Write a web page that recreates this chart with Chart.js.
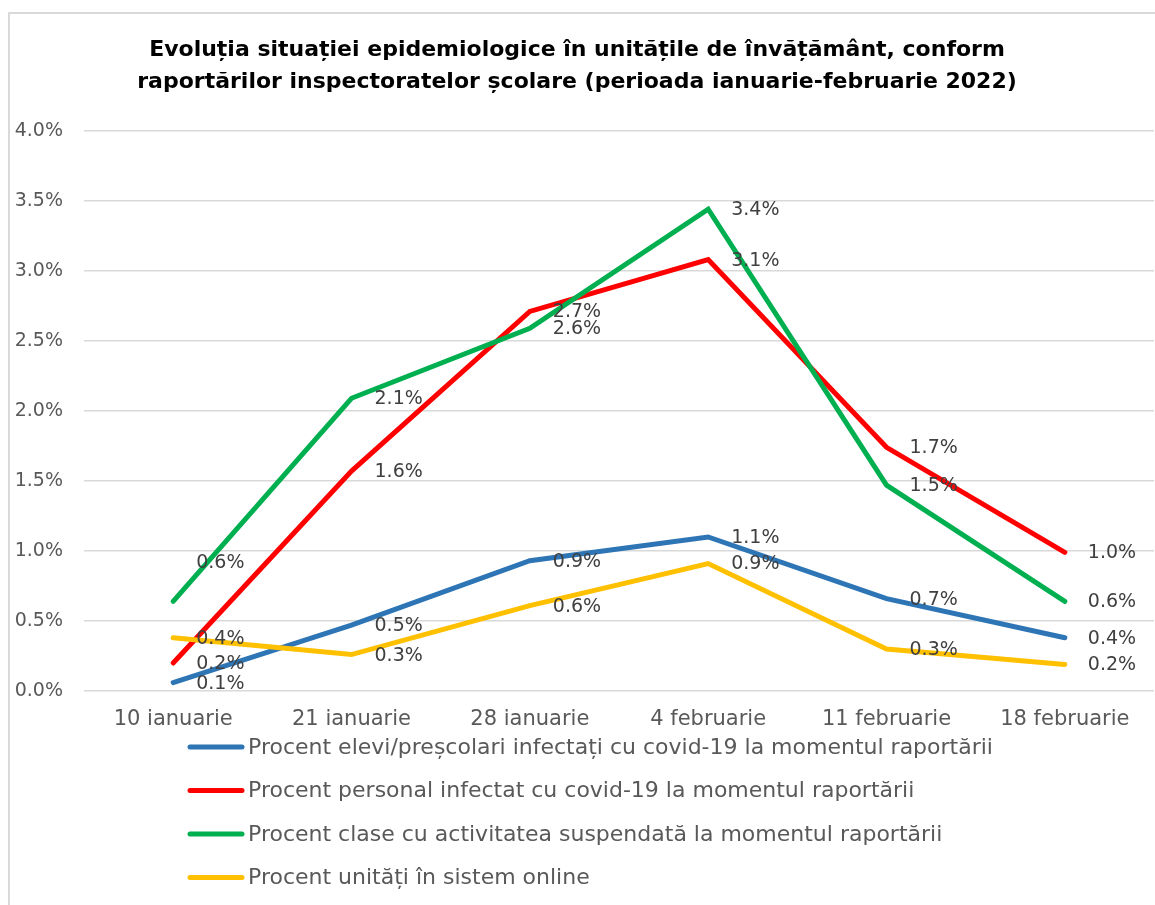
<!DOCTYPE html>
<html>
<head>
<meta charset="utf-8">
<script src="https://cdn.jsdelivr.net/npm/chart.js@4"></script>
<style>
  html, body { margin: 0; padding: 0; background: #ffffff; }
  #grafic { display: block; }
</style>
</head>
<body>
<canvas id="grafic" width="1155" height="905"></canvas>
<script>
// date (procente)
const categorii = ['10 ianuarie', '21 ianuarie', '28 ianuarie', '4 februarie', '11 februarie', '18 februarie'];
const eleviInfectati = [0.06, 0.47, 0.93, 1.10, 0.66, 0.38];
const personalInfectat = [0.20, 1.57, 2.71, 3.08, 1.74, 0.99];
const claseSuspendate = [0.64, 2.09, 2.59, 3.44, 1.47, 0.64];
const unitatiOnline = [0.38, 0.26, 0.61, 0.91, 0.30, 0.19];
const valoriAxaY = [0, 0.5, 1, 1.5, 2, 2.5, 3, 3.5, 4];

const titlu = [
    'Evoluția situației epidemiologice în unitățile de învățământ, conform',
    'raportărilor inspectoratelor școlare (perioada ianuarie-februarie 2022)'
];

const FONT = "'DejaVu Sans', Verdana, sans-serif";

// chenarul gri (doar stanga si sus, restul e taiat)
const pluginChenar = {
    id: 'chenar',
    beforeDraw(chart) {
        const ctx = chart.ctx;
        ctx.save();
        ctx.strokeStyle = '#d9d9d9';
        ctx.lineWidth = 2;
        ctx.beginPath();
        ctx.moveTo(9, chart.height);
        ctx.lineTo(9, 13);
        ctx.lineTo(chart.width, 13);
        ctx.stroke();
        ctx.restore();
    }
};

// etichetele cu valori, in dreapta fiecarui punct
const pluginEtichete = {
    id: 'etichete',
    afterDatasetsDraw(chart) {
        const ctx = chart.ctx;
        ctx.save();
        ctx.font = '19px ' + FONT;
        ctx.fillStyle = '#404040';
        ctx.textAlign = 'left';
        ctx.textBaseline = 'middle';
        chart.data.datasets.forEach((ds, i) => {
            const meta = chart.getDatasetMeta(i);
            meta.data.forEach((pt, j) => {
                let dy = 0;
                if (i === 2 && j === 0) dy = -39; // eticheta mutata in sus ca in original
                ctx.fillText(ds.data[j].toFixed(1) + '%', pt.x + 23, pt.y + dy + 1);
            });
        });
        ctx.restore();
    }
};

// legenda pe randuri, aliniata la stanga
const pluginLegenda = {
    id: 'legendaJos',
    afterDraw(chart) {
        const ctx = chart.ctx;
        const x0 = chart.chartArea.left + 106;
        const y0 = chart.scales.x.bottom + 16;
        ctx.save();
        ctx.font = '22px ' + FONT;
        ctx.textAlign = 'left';
        ctx.textBaseline = 'middle';
        chart.data.datasets.forEach((ds, i) => {
            const y = y0 + i * 43.5;
            ctx.strokeStyle = ds.borderColor;
            ctx.lineWidth = 5;
            ctx.lineCap = 'round';
            ctx.beginPath();
            ctx.moveTo(x0, y);
            ctx.lineTo(x0 + 52, y);
            ctx.stroke();
            ctx.fillStyle = '#595959';
            ctx.fillText(ds.label, x0 + 58, y + 1);
        });
        ctx.restore();
    }
};

function serie(eticheta, valori, culoare, ordine) {
    return {
        label: eticheta,
        data: valori,
        borderColor: culoare,
        backgroundColor: culoare,
        borderWidth: 5,
        borderCapStyle: 'round',
        borderJoinStyle: 'miter',
        pointRadius: 0,
        tension: 0,
        fill: false,
        order: ordine
    };
}

const ctx = document.getElementById('grafic').getContext('2d');
window.graficEpidemie = new Chart(ctx, {
    type: 'line',
    plugins: [pluginChenar, pluginEtichete, pluginLegenda],
    data: {
        labels: categorii,
        datasets: [
            serie('Procent elevi/preșcolari infectați cu covid-19 la momentul raportării', eleviInfectati, '#2e75b6', 4),
            serie('Procent personal infectat cu covid-19 la momentul raportării', personalInfectat, '#ff0000', 3),
            serie('Procent clase cu activitatea suspendată la momentul raportării', claseSuspendate, '#00b050', 2),
            serie('Procent unități în sistem online', unitatiOnline, '#ffc000', 1)
        ]
    },
    options: {
        responsive: false,
        animation: false,
        devicePixelRatio: 1,
        layout: {
            padding: { left: 0, right: 1, top: 0, bottom: 174 }
        },
        scales: {
            x: {
                offset: true,
                afterFit: (scale) => { scale.height = 40; },
                grid: { display: false, drawTicks: false },
                border: { display: false },
                ticks: {
                    color: '#595959',
                    font: { family: FONT, size: 21 },
                    padding: 16,
                    maxRotation: 0,
                    autoSkip: false
                }
            },
            y: {
                min: 0,
                max: 4,
                afterFit: (scale) => { scale.width = 84; },
                afterBuildTicks: (scale) => {
                    scale.ticks = valoriAxaY.map(v => ({ value: v }));
                },
                grid: { color: '#d9d9d9', lineWidth: 1.5, drawTicks: false },
                border: { display: false },
                ticks: {
                    color: '#595959',
                    font: { family: FONT, size: 19 },
                    padding: 21,
                    callback: (v) => Number(v).toFixed(1) + '%'
                }
            }
        },
        plugins: {
            legend: { display: false },
            tooltip: { enabled: false },
            title: {
                display: true,
                text: titlu,
                color: '#000000',
                font: { family: FONT, size: 22, weight: 'bold', lineHeight: 1.45 },
                padding: { top: 34, bottom: 33 }
            }
        }
    }
});
</script>
</body>
</html>
